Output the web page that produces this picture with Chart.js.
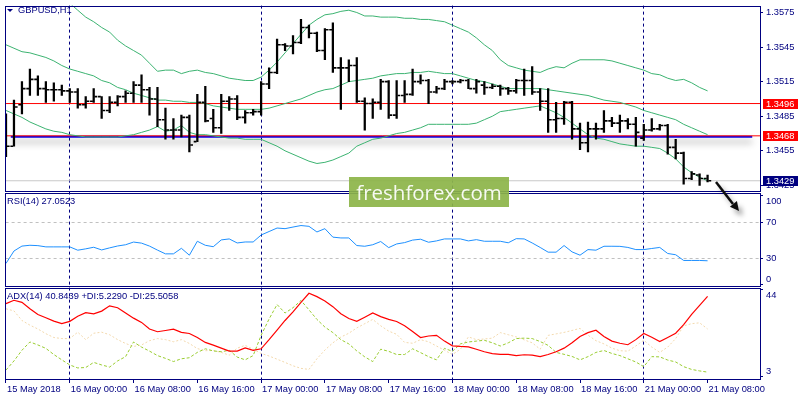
<!DOCTYPE html>
<html>
<head>
<meta charset="utf-8">
<script src="https://cdn.jsdelivr.net/npm/chart.js@4.4.1/dist/chart.umd.min.js"></script>
<style>
  html, body { margin: 0; padding: 0; background: #fff; }
  #wrap { position: relative; width: 800px; height: 400px; overflow: hidden;
          font-family: "Liberation Sans", Arial, sans-serif; }
  #chart { position: absolute; left: 0; top: 0; }
  .lbl { position: absolute; font-size: 9.3px; line-height: 11px; color: #000080; white-space: nowrap; }
  .tri { position: absolute; left: 7px; top: 9px; width: 0; height: 0;
         border-left: 3px solid transparent; border-right: 3px solid transparent; border-top: 3.5px solid #000080; }
  .mark { position: absolute; left: 349px; top: 177px; width: 160px; height: 30px;
          background: rgba(140, 180, 72, 0.92); color: rgba(255, 255, 255, 0.93);
          font: 20.5px "Open Sans", sans-serif; line-height: 30px; text-align: center; }
  svg { position: absolute; left: 0; top: 0; }
</style>
</head>
<body>
<div id="wrap">
  <canvas id="chart" width="800" height="400"></canvas>
  <div class="tri"></div>
  <div class="lbl" style="left:18px;top:5px">GBPUSD,H1</div>
  <div class="lbl" style="left:7px;top:196px">RSI(14) 27.0523</div>
  <div class="lbl" style="left:7px;top:291px">ADX(14) 40.8439 +DI:5.2290 -DI:25.5058</div>
  <div class="mark">freshforex.com</div>
  <svg width="800" height="400">
    <defs>
      <filter id="sh" x="-50%" y="-50%" width="200%" height="200%">
        <feDropShadow dx="4" dy="5" stdDeviation="2.5" flood-color="#000" flood-opacity="0.35"/>
      </filter>
    </defs>
    <g filter="url(#sh)">
      <line x1="716" y1="182" x2="733" y2="204" stroke="#111" stroke-width="2.5"/>
      <polygon points="739,211 729.9,206.7 736.9,201.1" fill="#111"/>
    </g>
  </svg>
</div>
<script>
// ---- GBPUSD H1 bars, 15 May 16:00 .. 21 May 08:00 ----
const open = [
  1.3484, 1.3459, 1.3495, 1.3509, 1.3517, 1.3509, 1.3508, 1.3508, 1.3507, 1.3506,
  1.3495, 1.3498, 1.3502, 1.3490, 1.3497, 1.3502, 1.3505, 1.3512, 1.3508, 1.3500,
  1.3482, 1.3473, 1.3473, 1.3484, 1.3463, 1.3497, 1.3483, 1.3475, 1.3498, 1.3500,
  1.3484, 1.3488, 1.3489, 1.3513, 1.3523, 1.3547, 1.3546, 1.3549, 1.3562, 1.3557,
  1.3542, 1.3560, 1.3527, 1.3527, 1.3529, 1.3498, 1.3496, 1.3497, 1.3515, 1.3486,
  1.3503, 1.3504, 1.3515, 1.3516, 1.3506, 1.3509, 1.3515, 1.3515, 1.3516, 1.3509,
  1.3512, 1.3510, 1.3511, 1.3509, 1.3507, 1.3516, 1.3516, 1.3506, 1.3498, 1.3482,
  1.3483, 1.3497, 1.3474, 1.3462, 1.3474, 1.3474, 1.3481, 1.3479, 1.3481, 1.3478,
  1.3466, 1.3473, 1.3474, 1.3477, 1.3458, 1.3453, 1.3431, 1.3434, 1.3431
];
const high = [
  1.3487, 1.3499, 1.3515, 1.3526, 1.3520, 1.3515, 1.3514, 1.3512, 1.3509, 1.3509,
  1.3502, 1.3509, 1.3502, 1.3502, 1.3503, 1.3507, 1.3515, 1.3521, 1.3510, 1.3510,
  1.3492, 1.3483, 1.3486, 1.3486, 1.3504, 1.3511, 1.3491, 1.3504, 1.3502, 1.3503,
  1.3490, 1.3491, 1.3515, 1.3527, 1.3552, 1.3548, 1.3555, 1.3569, 1.3564, 1.3558,
  1.3561, 1.3566, 1.3536, 1.3534, 1.3536, 1.3501, 1.3500, 1.3517, 1.3516, 1.3516,
  1.3516, 1.3526, 1.3521, 1.3517, 1.3511, 1.3517, 1.3516, 1.3517, 1.3517, 1.3517,
  1.3515, 1.3513, 1.3512, 1.3510, 1.3517, 1.3526, 1.3528, 1.3509, 1.3509, 1.3497,
  1.3498, 1.3498, 1.3479, 1.3480, 1.3479, 1.3490, 1.3484, 1.3486, 1.3483, 1.3484,
  1.3478, 1.3483, 1.3478, 1.3478, 1.3465, 1.3454, 1.3437, 1.3435, 1.3434
];
const low = [
  1.3450, 1.3459, 1.3487, 1.3503, 1.3503, 1.3497, 1.3498, 1.3503, 1.3497, 1.3492,
  1.3492, 1.3497, 1.3483, 1.3488, 1.3494, 1.3497, 1.3497, 1.3497, 1.3486, 1.3476,
  1.3465, 1.3465, 1.3467, 1.3454, 1.3463, 1.3480, 1.3471, 1.3470, 1.3490, 1.3482,
  1.3479, 1.3486, 1.3486, 1.3509, 1.3522, 1.3542, 1.3539, 1.3548, 1.3553, 1.3541,
  1.3534, 1.3523, 1.3491, 1.3515, 1.3497, 1.3473, 1.3483, 1.3491, 1.3483, 1.3483,
  1.3497, 1.3503, 1.3513, 1.3496, 1.3505, 1.3508, 1.3513, 1.3514, 1.3509, 1.3505,
  1.3504, 1.3509, 1.3503, 1.3504, 1.3505, 1.3503, 1.3504, 1.3490, 1.3471, 1.3471,
  1.3478, 1.3465, 1.3456, 1.3454, 1.3465, 1.3471, 1.3476, 1.3471, 1.3474, 1.3459,
  1.3464, 1.3472, 1.3473, 1.3452, 1.3448, 1.3426, 1.3430, 1.3425, 1.3428
];
const close = [
  1.3459, 1.3493, 1.3509, 1.3517, 1.3509, 1.3508, 1.3508, 1.3507, 1.3506, 1.3495,
  1.3498, 1.3502, 1.3490, 1.3497, 1.3502, 1.3505, 1.3512, 1.3508, 1.3500, 1.3482,
  1.3473, 1.3473, 1.3484, 1.3460, 1.3497, 1.3481, 1.3475, 1.3498, 1.3500, 1.3484,
  1.3488, 1.3489, 1.3513, 1.3523, 1.3547, 1.3546, 1.3549, 1.3562, 1.3557, 1.3542,
  1.3560, 1.3527, 1.3527, 1.3529, 1.3498, 1.3496, 1.3497, 1.3515, 1.3486, 1.3503,
  1.3504, 1.3515, 1.3516, 1.3506, 1.3509, 1.3515, 1.3515, 1.3516, 1.3509, 1.3515,
  1.3510, 1.3511, 1.3509, 1.3507, 1.3516, 1.3516, 1.3506, 1.3498, 1.3482, 1.3483,
  1.3497, 1.3474, 1.3462, 1.3474, 1.3474, 1.3481, 1.3479, 1.3481, 1.3478, 1.3471,
  1.3473, 1.3474, 1.3477, 1.3458, 1.3453, 1.3431, 1.3435, 1.3431, 1.3429
];

// Bollinger bands (20)
const bbUpper = [
  1.3603, 1.3601, 1.3600, 1.3599, 1.3599, 1.3598, 1.3594, 1.3588, 1.3583, 1.3577,
  1.3571, 1.3567, 1.3562, 1.3558, 1.3551, 1.3546, 1.3542, 1.3538, 1.3531, 1.3524,
  1.3525, 1.3525, 1.3522, 1.3524, 1.3525, 1.3523, 1.3522, 1.3520, 1.3518, 1.3517,
  1.3516, 1.3516, 1.3519, 1.3525, 1.3532, 1.3540, 1.3548, 1.3556, 1.3564, 1.3569,
  1.3573, 1.3574, 1.3576, 1.3577, 1.3575, 1.3572, 1.3572, 1.3571, 1.3571, 1.3571,
  1.3570, 1.3570, 1.3569, 1.3569, 1.3568, 1.3567, 1.3564, 1.3561, 1.3558, 1.3553,
  1.3547, 1.3542, 1.3534, 1.3529, 1.3527, 1.3525, 1.3524, 1.3523, 1.3526, 1.3528,
  1.3527, 1.3531, 1.3534, 1.3534, 1.3534, 1.3534, 1.3533, 1.3531, 1.3529, 1.3527,
  1.3525, 1.3522, 1.3521, 1.3518, 1.3516, 1.3517, 1.3514, 1.3510, 1.3507
];
const bbMiddle = [
  1.3547, 1.3544, 1.3541, 1.3540, 1.3538, 1.3536, 1.3533, 1.3529, 1.3526, 1.3524,
  1.3522, 1.3520, 1.3516, 1.3514, 1.3510, 1.3508, 1.3505, 1.3503, 1.3501, 1.3499,
  1.3499, 1.3498, 1.3498, 1.3497, 1.3497, 1.3496, 1.3494, 1.3493, 1.3492, 1.3491,
  1.3491, 1.3491, 1.3491, 1.3492, 1.3494, 1.3496, 1.3498, 1.3500, 1.3503, 1.3506,
  1.3508, 1.3509, 1.3512, 1.3515, 1.3516, 1.3517, 1.3518, 1.3520, 1.3521, 1.3522,
  1.3522, 1.3523, 1.3523, 1.3524, 1.3523, 1.3522, 1.3522, 1.3520, 1.3518, 1.3516,
  1.3515, 1.3513, 1.3511, 1.3509, 1.3509, 1.3509, 1.3509, 1.3509, 1.3508, 1.3507,
  1.3506, 1.3505, 1.3504, 1.3503, 1.3501, 1.3499, 1.3498, 1.3497, 1.3495, 1.3493,
  1.3490, 1.3488, 1.3486, 1.3484, 1.3482, 1.3478, 1.3475, 1.3472, 1.3469
];
const bbLower = [
  1.3490, 1.3487, 1.3484, 1.3480, 1.3477, 1.3474, 1.3472, 1.3471, 1.3469, 1.3468,
  1.3467, 1.3467, 1.3467, 1.3467, 1.3467, 1.3468, 1.3469, 1.3471, 1.3473, 1.3476,
  1.3472, 1.3473, 1.3477, 1.3471, 1.3469, 1.3469, 1.3468, 1.3467, 1.3466, 1.3466,
  1.3465, 1.3465, 1.3465, 1.3462, 1.3459, 1.3455, 1.3452, 1.3449, 1.3446, 1.3444,
  1.3445, 1.3447, 1.3450, 1.3453, 1.3459, 1.3462, 1.3465, 1.3466, 1.3468, 1.3470,
  1.3471, 1.3473, 1.3475, 1.3478, 1.3478, 1.3478, 1.3478, 1.3478, 1.3478, 1.3479,
  1.3482, 1.3485, 1.3489, 1.3490, 1.3491, 1.3492, 1.3493, 1.3494, 1.3491, 1.3488,
  1.3484, 1.3479, 1.3474, 1.3469, 1.3466, 1.3465, 1.3463, 1.3461, 1.3460, 1.3459,
  1.3459, 1.3458, 1.3457, 1.3453, 1.3448, 1.3441, 1.3436, 1.3432, 1.3429
];

// RSI(14)
const rsi = [
  24.1, 38.0, 43.5, 44.4, 44.0, 42.6, 42.6, 42.6, 42.6, 38.9,
  40.4, 42.2, 39.2, 41.5, 43.6, 45.0, 48.0, 46.8, 43.5, 39.0,
  34.8, 34.8, 41.0, 33.3, 48.9, 44.4, 42.8, 50.4, 51.5, 47.0,
  48.1, 48.1, 55.9, 59.8, 63.7, 63.0, 64.8, 66.5, 65.6, 59.3,
  63.0, 53.5, 52.6, 52.6, 44.1, 43.3, 45.0, 48.6, 41.8, 45.9,
  47.4, 50.2, 51.2, 47.8, 49.3, 51.5, 51.5, 51.5, 49.3, 50.7,
  48.9, 48.9, 48.9, 47.2, 51.8, 51.5, 47.0, 42.0, 36.7, 36.7,
  44.1, 37.0, 33.3, 39.6, 38.9, 43.3, 43.3, 43.2, 42.0, 39.6,
  39.6, 40.8, 42.0, 35.2, 33.8, 27.4, 27.4, 27.4, 27.05
];

// ADX(14), +DI, -DI
const adx = [
  37.4, 39.0, 38.0, 35.0, 32.3, 30.8, 29.2, 28.0, 29.1, 31.5,
  33.2, 32.6, 33.9, 36.4, 35.5, 33.0, 30.6, 28.6, 25.5, 24.2,
  24.8, 25.4, 23.9, 23.4, 21.5, 19.2, 17.9, 16.5, 15.1, 15.1,
  16.6, 15.5, 16.2, 20.5, 25.0, 29.5, 33.5, 38.0, 42.3, 40.7,
  38.7, 36.0, 32.7, 30.4, 29.1, 31.0, 33.0, 31.3, 30.0, 29.0,
  27.0, 24.3, 21.5, 22.2, 22.5, 19.8, 17.6, 17.3, 17.1, 16.0,
  14.8, 13.9, 13.6, 13.6, 13.0, 13.4, 13.2, 12.5, 13.5, 14.8,
  16.5, 19.0, 22.0, 23.8, 24.9, 22.0, 19.8, 18.8, 18.1, 20.5,
  23.4, 21.6, 19.6, 21.5, 23.5, 27.5, 32.4, 36.6, 40.84
];
const plusDi = [
  6.2, 10.5, 15.5, 19.4, 18.0, 16.4, 13.5, 11.0, 8.6, 7.2,
  7.4, 9.8, 8.6, 7.6, 10.5, 12.5, 19.4, 17.0, 15.1, 13.0,
  11.7, 10.2, 11.5, 12.0, 14.5, 16.2, 15.2, 14.8, 15.5, 12.3,
  11.0, 13.0, 22.5, 30.2, 37.0, 33.0, 35.5, 38.9, 34.5, 30.0,
  26.4, 23.8, 20.5, 18.5, 15.2, 12.4, 10.2, 16.0, 15.0, 13.5,
  13.5, 16.2, 14.4, 12.5, 11.0, 16.4, 15.0, 18.5, 19.4, 19.8,
  20.2, 19.0, 17.5, 19.0, 21.0, 21.2, 21.0, 19.6, 17.8, 14.5,
  13.6, 12.6, 11.0, 12.5, 14.5, 15.4, 14.0, 13.0, 11.5, 10.0,
  7.8, 12.5, 12.4, 10.9, 10.0, 7.8, 6.5, 5.8, 5.23
];
const minusDi = [
  35.0, 34.0, 29.5, 27.3, 25.5, 23.3, 21.5, 21.0, 21.0, 24.0,
  20.5, 23.5, 24.0, 22.8, 20.5, 18.7, 17.3, 18.0, 20.0, 21.0,
  20.5, 19.5, 20.5, 18.7, 16.3, 15.3, 15.4, 14.5, 13.2, 16.5,
  17.8, 16.0, 14.0, 12.8, 11.3, 9.8, 8.2, 7.0, 6.5, 11.5,
  15.6, 19.0, 21.7, 23.5, 26.0, 28.0, 30.0, 27.0, 24.5, 23.0,
  19.2, 18.8, 20.5, 19.5, 17.5, 15.5, 13.5, 16.0, 21.8, 20.5,
  20.8, 21.2, 23.8, 22.8, 21.8, 20.4, 19.0, 16.0, 22.5, 23.2,
  23.9, 24.8, 25.8, 22.6, 20.0, 18.5, 16.5, 15.3, 15.1, 17.5,
  20.2, 17.0, 14.5, 17.0, 21.0, 27.0, 28.0, 28.4, 25.51
];

// horizontal levels and the drawn trend line
const levels = [1.3496, 1.3468];
const trendLevel = 1.34672;
const trendFrom = 0.6, trendTo = 93.6;
const bid = 1.3429;

// axes
const labelBars = [0, 8, 16, 24, 32, 40, 48, 56, 64, 72, 80, 88];
const timeLabels = ['15 May 2018', '16 May 00:00', '16 May 08:00', '16 May 16:00', '17 May 00:00',
  '17 May 08:00', '17 May 16:00', '18 May 00:00', '18 May 08:00', '18 May 16:00', '21 May 00:00', '21 May 08:00'];
const daySeparators = [8, 32, 56, 80];
const priceTicks = [1.3425, 1.3455, 1.3485, 1.3515, 1.3545, 1.3575];
const rsiTicks = [0, 30, 70, 100];
const rsiLevels = [30, 70];
const adxTicks = [3, 44];

const NAVY = '#000080';
const BB_GREEN = '#3cb371';
const X_MIN = -0.05, X_MAX = 94.575;

Chart.defaults.font.family = '"Liberation Sans", Arial, sans-serif';
Chart.defaults.font.size = 9.3;
Chart.defaults.color = NAVY;

const idx = close.map((_, i) => i);
const pts = (arr, shift = 0) => arr.map((v, i) => ({ x: i + shift, y: v }));
const span = (v, from = X_MIN, to = X_MAX) => [{ x: from, y: v }, { x: to, y: v }];

function line(label, data, color, axis, extra = {}) {
  return Object.assign({
    type: 'line', label, data, yAxisID: axis, borderColor: color,
    borderWidth: 1, pointRadius: 0, tension: 0, fill: false
  }, extra);
}

function tick(label, values, shift) {
  return {
    type: 'scatter', label, data: pts(values, shift), yAxisID: 'yPrice',
    pointStyle: 'line', pointRadius: 1.4, pointBorderWidth: 1.6, borderWidth: 1.6,
    borderColor: '#000', backgroundColor: '#000'
  };
}

// fixed-width right axis, no label padding leaking into the layout
const fixY = s => { s.width = 40; s.paddingTop = 0; s.paddingBottom = 0; };
const setTicks = values => s => { s.ticks = values.map(v => ({ value: v })); };

const panes = {
  id: 'panes',
  beforeDatasetDraw(chart, args) {
    if (chart.data.datasets[args.index].label !== 'trend') return;
    const ctx = chart.ctx;
    ctx.save();
    ctx.shadowColor = 'rgba(0,0,0,0.45)';
    ctx.shadowBlur = 7;
    ctx.shadowOffsetY = 5;
  },
  afterDatasetDraw(chart, args) {
    if (chart.data.datasets[args.index].label === 'trend') chart.ctx.restore();
  },
  afterDatasetsDraw(chart) {
    const { ctx, chartArea: { left, right } } = chart;
    const p = chart.scales.yPrice, r = chart.scales.yRsi, a = chart.scales.yAdx;
    const rows = [[p.top, p.bottom - 1], [r.top + 1, r.bottom - 1], [a.top + 1, a.bottom]];
    ctx.save();
    ctx.strokeStyle = NAVY;
    ctx.lineWidth = 1;
    rows.forEach(([t, b]) => {
      t = Math.round(t); b = Math.round(b);
      ctx.strokeRect(Math.round(left) - 0.5, t + 0.5, Math.round(right - left) + 1, b - t);
    });
    ctx.restore();
  },
  afterDraw(chart) {
    const { ctx, chartArea: { right } } = chart;
    const p = chart.scales.yPrice;
    const boxes = [[levels[0], '#ff0000'], [levels[1], '#ff0000'], [bid, NAVY]];
    ctx.save();
    ctx.font = '9.3px "Liberation Sans", Arial, sans-serif';
    ctx.textBaseline = 'middle';
    ctx.textAlign = 'left';
    boxes.forEach(([v, bg]) => {
      const y = Math.round(p.getPixelForValue(v));
      ctx.fillStyle = bg;
      ctx.fillRect(right + 3, y - 5, 35, 10);
      ctx.fillStyle = '#fff';
      ctx.fillText(v.toFixed(4), right + 6, y + 0.5);
    });
    ctx.restore();
  }
};

new Chart(document.getElementById('chart'), {
  type: 'line',
  data: {
    datasets: [
      { type: 'bar', label: 'range', data: idx.map(i => ({ x: i, y: [low[i], high[i]] })),
        yAxisID: 'yPrice', backgroundColor: '#000', barThickness: 1.6, borderWidth: 0 },
      tick('open', open, -0.28),
      tick('close', close, 0.28),
      line('bbUpper', pts(bbUpper), BB_GREEN, 'yPrice'),
      line('bbMiddle', pts(bbMiddle), BB_GREEN, 'yPrice'),
      line('bbLower', pts(bbLower), BB_GREEN, 'yPrice'),
      line('level1', span(levels[0]), '#ff0000', 'yPrice'),
      line('level2', span(levels[1]), '#ff0000', 'yPrice'),
      line('trend', span(trendLevel, trendFrom, trendTo), '#0000ee', 'yPrice', { borderWidth: 2 }),
      line('bid', span(bid), '#c8c8c8', 'yPrice'),
      line('rsi', pts(rsi), '#1e90ff', 'yRsi'),
      line('adx', pts(adx), '#ff0000', 'yAdx', { borderWidth: 1.2 }),
      line('plusDi', pts(plusDi), '#9acd32', 'yAdx', { borderDash: [3, 2] }),
      line('minusDi', pts(minusDi), '#f3d9ad', 'yAdx', { borderDash: [2, 2] })
    ]
  },
  options: {
    responsive: false,
    animation: false,
    events: [],
    layout: { padding: { top: 3, left: 3, right: 0, bottom: 0 } },
    plugins: { legend: { display: false }, tooltip: { enabled: false } },
    scales: {
      x: {
        type: 'linear', position: 'bottom', min: X_MIN, max: X_MAX, offset: false,
        afterBuildTicks: setTicks(labelBars),
        afterFit: s => { s.height = 21; s.paddingLeft = 0; s.paddingRight = 0; },
        ticks: { autoSkip: false, maxRotation: 0, align: 'start', padding: 1, labelOffset: 1,
                 callback: (v, i) => timeLabels[i] },
        grid: { offset: false,
                color: c => (c.tick && daySeparators.includes(c.tick.value)) ? NAVY : 'transparent',
                lineWidth: 1, tickColor: NAVY, tickLength: 4 },
        border: { display: false, dash: [3, 3] }
      },
      yPrice: {
        type: 'linear', position: 'right', stack: 'panes', stackWeight: 188,
        min: 1.3419, max: 1.3581,
        afterBuildTicks: setTicks(priceTicks),
        afterFit: fixY,
        ticks: { autoSkip: false, padding: 3, callback: v => v.toFixed(4) },
        grid: { drawOnChartArea: false, tickColor: NAVY, tickLength: 3 },
        border: { display: false }
      },
      yRsi: {
        type: 'linear', position: 'right', stack: 'panes', stackWeight: 95,
        min: -1.9, max: 103.7,
        afterBuildTicks: setTicks(rsiTicks),
        afterFit: fixY,
        ticks: { autoSkip: false, padding: 3,
                 callback: v => v === 100 ? ['', '100'] : v === 0 ? ['0', ''] : String(v) },
        grid: { color: c => (c.tick && rsiLevels.includes(c.tick.value)) ? '#c0c0c0' : 'transparent',
                tickColor: NAVY, tickLength: 3 },
        border: { display: false, dash: [3, 3] }
      },
      yAdx: {
        type: 'linear', position: 'right', stack: 'panes', stackWeight: 93,
        min: 2.0, max: 45.4,
        afterBuildTicks: setTicks(adxTicks),
        afterFit: fixY,
        ticks: { autoSkip: false, padding: 3,
                 callback: v => v === 44 ? ['', '44'] : ['3', ''] },
        grid: { drawOnChartArea: false, tickColor: NAVY, tickLength: 3 },
        border: { display: false }
      }
    }
  },
  plugins: [panes]
});
</script>
</body>
</html>
